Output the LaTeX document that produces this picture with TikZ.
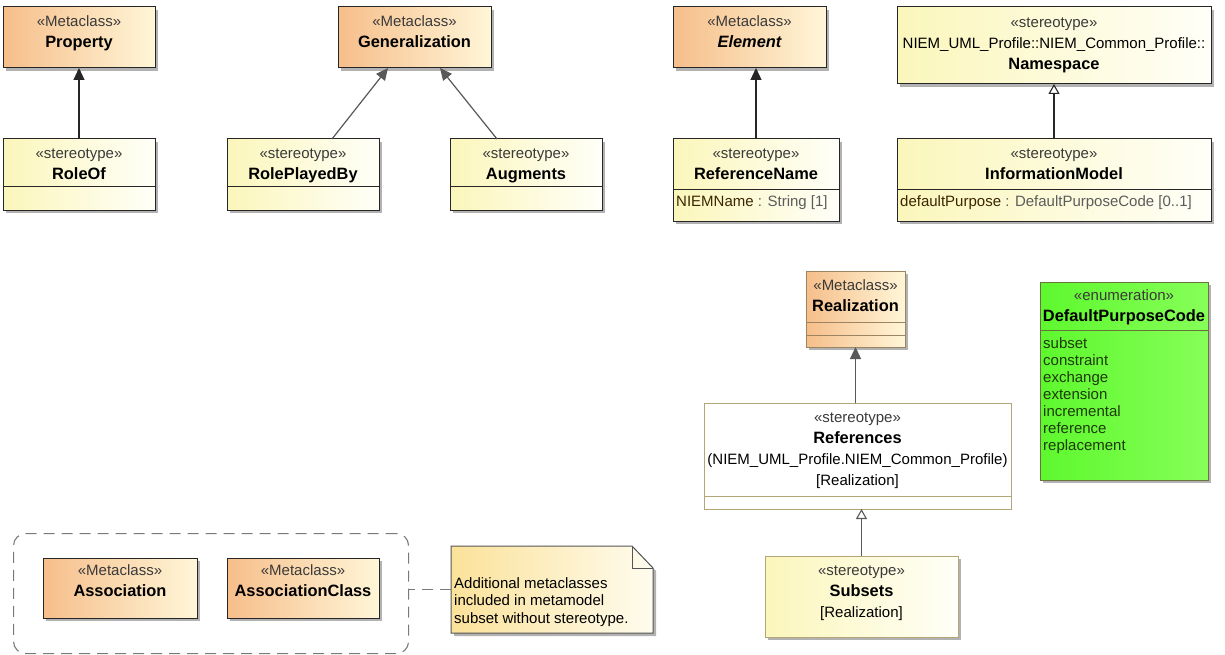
\documentclass[tikz,border=0pt]{standalone}
\usepackage{fontspec}
\setmainfont{Liberation Sans}
\usepackage{xcolor}
\usetikzlibrary{positioning}
\usetikzlibrary{shadows}
\usetikzlibrary{arrows.meta}
\tikzset{>=Latex}
\definecolor{metaorange}{HTML}{F6BE8A}
\definecolor{metalight}{HTML}{FFF6D8}
\definecolor{stereoyellow}{HTML}{FBF6BB}
\definecolor{stereolight}{HTML}{FFFFF8}
\definecolor{enumgreen}{HTML}{5EF82E}
\definecolor{enumgreenlight}{HTML}{86FF58}
\definecolor{noteyellow}{HTML}{FBE29A}
\definecolor{notelight}{HTML}{FFFCEE}
\definecolor{boxdark}{HTML}{262626}
\definecolor{paleborder}{HTML}{B3A679}
\definecolor{metaborder}{HTML}{9C8462}
\definecolor{enumborder}{HTML}{68743E}
\definecolor{stereogray}{HTML}{3A3A3A}
\definecolor{attrname}{HTML}{3A2600}
\definecolor{attrtype}{HTML}{5C5C5C}
\definecolor{literalgreen}{HTML}{1E3A0A}
\definecolor{arrowgray}{HTML}{595959}
\definecolor{dashgray}{HTML}{7A7A7A}
\newcommand\stereo[1]{\textcolor{stereogray}{\vphantom{Xl}«#1»}}
\newcommand\umlname[1]{{\fontsize{16.4}{21}\selectfont\bfseries #1}}
\newcommand\compartment[3]{\draw[divider, draw=#3] ([yshift=-#2]#1.north west) -- ([yshift=-#2]#1.north east);}
\tikzstyle{umlbox} = [anchor=north west, inner sep=0pt, outer sep=0pt, line width=1pt, drop shadow={shadow xshift=3pt, shadow yshift=-3pt, fill=black, opacity=0.3}]
\tikzstyle{metaclass} = [umlbox, draw=boxdark, left color=metaorange, right color=metalight]
\tikzstyle{palemeta} = [metaclass, draw=metaborder]
\tikzstyle{stereotype} = [umlbox, draw=boxdark, left color=stereoyellow, right color=stereolight]
\tikzstyle{palestereo} = [stereotype, draw=paleborder]
\tikzstyle{enumbox} = [umlbox, draw=enumborder, left color=enumgreen, right color=enumgreenlight]
\tikzstyle{plainbox} = [anchor=north west, inner sep=0pt, outer sep=0pt, line width=1pt, draw=paleborder, fill=white]
\tikzstyle{container} = [anchor=north west, draw=dashgray, line width=1.1pt, dash pattern=on 11pt off 7pt, rounded corners=12pt]
\tikzstyle{boxtext} = [font=\fontsize{15}{21}\selectfont, align=center, inner sep=0pt]
\tikzstyle{attrtext} = [font=\fontsize{15}{18}\selectfont, inner sep=0pt, anchor=west]
\tikzstyle{listtext} = [font=\fontsize{15}{17}\selectfont, align=left, inner sep=0pt, anchor=north west, text=literalgreen]
\tikzstyle{divider} = [line width=1pt]
\tikzstyle{extends} = [line width=1.2pt, -{Triangle[length=12pt,width=11pt]}]
\tikzstyle{realizes} = [line width=1.1pt, -{Triangle[open,length=10pt,width=11pt]}]
\tikzstyle{notebox} = [draw=dashgray!70!black, line width=1pt, left color=noteyellow, right color=notelight, drop shadow={shadow xshift=3pt, shadow yshift=-3pt, fill=black, opacity=0.3}]
\tikzstyle{notelink} = [draw=dashgray, line width=1.1pt, dash pattern=on 11pt off 7pt]

\begin{document}
\begin{tikzpicture}[x=1pt, y=-1pt]
    \path[use as bounding box, fill=white] (0,0) rectangle (1225,655);

    % metaclasses, top row
    \node[metaclass, minimum width=152pt, minimum height=61pt] (property) at (3,7) {};
    \node[boxtext, below=8pt of property.north] (property-label) {\stereo{Metaclass}\\\umlname{Property}};
    \node[metaclass, minimum width=153pt, minimum height=61pt] (generalization) at (338,7) {};
    \node[boxtext, below=8pt of generalization.north] (generalization-label) {\stereo{Metaclass}\\\umlname{Generalization}};
    \node[metaclass, minimum width=153pt, minimum height=61pt] (element) at (673,7) {};
    \node[boxtext, below=8pt of element.north] (element-label) {\stereo{Metaclass}\\\umlname{\itshape Element}};
    \node[stereotype, minimum width=314pt, minimum height=77pt] (namespace) at (897,7) {};
    \node[boxtext, below=9pt of namespace.north] (namespace-label) {\stereo{stereotype}\\NIEM\_UML\_Profile::NIEM\_Common\_Profile::\\\umlname{Namespace}};

    % stereotypes, second row
    \node[stereotype, minimum width=152pt, minimum height=71pt] (roleof) at (3,139) {};
    \compartment{roleof}{48pt}{boxdark}
    \node[boxtext, below=8pt of roleof.north] (roleof-label) {\stereo{stereotype}\\\umlname{RoleOf}};
    \node[stereotype, minimum width=152pt, minimum height=71pt] (roleplayedby) at (227,139) {};
    \compartment{roleplayedby}{48pt}{boxdark}
    \node[boxtext, below=8pt of roleplayedby.north] (roleplayedby-label) {\stereo{stereotype}\\\umlname{RolePlayedBy}};
    \node[stereotype, minimum width=152pt, minimum height=71pt] (augments) at (450,139) {};
    \compartment{augments}{48pt}{boxdark}
    \node[boxtext, below=8pt of augments.north] (augments-label) {\stereo{stereotype}\\\umlname{Augments}};
    \node[stereotype, minimum width=166pt, minimum height=82pt] (referencename) at (673,139) {};
    \compartment{referencename}{51pt}{boxdark}
    \node[boxtext, below=8pt of referencename.north] (referencename-label) {\stereo{stereotype}\\\umlname{ReferenceName}};
    \node[attrtext] (referencename-attr) at ([xshift=3pt, yshift=-64pt]referencename.north west) {\textcolor{attrname}{NIEMName} \textcolor{attrtype}{: String [1]}};
    \node[stereotype, minimum width=314pt, minimum height=82pt] (informationmodel) at (897,139) {};
    \compartment{informationmodel}{51pt}{boxdark}
    \node[boxtext, below=8pt of informationmodel.north] (informationmodel-label) {\stereo{stereotype}\\\umlname{InformationModel}};
    \node[attrtext] (informationmodel-attr) at ([xshift=3pt, yshift=-64pt]informationmodel.north west) {\textcolor{attrname}{defaultPurpose} \textcolor{attrtype}{: DefaultPurposeCode [0..1]}};

    \draw[extends, draw=boxdark, fill=boxdark] (roleof.north) -- (property.south);
    \draw[extends, draw=arrowgray, fill=arrowgray] ([xshift=29pt]roleplayedby.north) -- ([xshift=-26.5pt]generalization.south);
    \draw[extends, draw=arrowgray, fill=arrowgray] ([xshift=-29pt]augments.north) -- ([xshift=25.5pt]generalization.south);
    \draw[extends, draw=boxdark, fill=boxdark] (referencename.north) -- (referencename.north |- element.south);
    \draw[realizes, draw=boxdark] (informationmodel.north) -- (namespace.south);

    % realization branch
    \node[palemeta, minimum width=99pt, minimum height=76pt] (realization) at (806,271) {};
    \compartment{realization}{51pt}{metaborder}
    \compartment{realization}{64pt}{metaborder}
    \node[boxtext, below=8pt of realization.north] (realization-label) {\stereo{Metaclass}\\\umlname{Realization}};
    \node[plainbox, minimum width=307pt, minimum height=106pt] (references) at (704,403) {};
    \compartment{references}{93pt}{paleborder}
    \node[boxtext, below=8pt of references.north] (references-label) {\stereo{stereotype}\\\umlname{References}\\(NIEM\_UML\_Profile.NIEM\_Common\_Profile)\\{[Realization]}};
    \node[palestereo, minimum width=193pt, minimum height=81pt] (subsets) at (765,556) {};
    \node[boxtext, below=8pt of subsets.north] (subsets-label) {\stereo{stereotype}\\\umlname{Subsets}\\{[Realization]}};

    \draw[extends, draw=arrowgray, fill=arrowgray] (references.north -| realization.south) -- (realization.south);
    \draw[realizes, draw=arrowgray] (subsets.north) -- (subsets.north |- references.south);

    % enumeration
    \node[enumbox, minimum width=168pt, minimum height=198pt] (dpc) at (1040,282) {};
    \compartment{dpc}{48pt}{enumborder}
    \node[boxtext, below=7pt of dpc.north] (dpc-label) {\stereo{enumeration}\\\umlname{DefaultPurposeCode}};
    \node[listtext] (dpc-literals) at ([xshift=3pt, yshift=-55pt]dpc.north west) {subset\\constraint\\exchange\\extension\\incremental\\reference\\replacement};

    % metaclasses without stereotype
    \node[container, minimum width=395pt, minimum height=120pt] (extras) at (13,533) {};
    \node[metaclass, minimum width=154pt, minimum height=60pt] (association) at (43,558) {};
    \node[boxtext, below=6pt of association.north] (association-label) {\stereo{Metaclass}\\\umlname{Association}};
    \node[metaclass, minimum width=152pt, minimum height=60pt] (associationclass) at (227,558) {};
    \node[boxtext, below=6pt of associationclass.north] (associationclass-label) {\stereo{Metaclass}\\\umlname{AssociationClass}};

    \node[anchor=north west, inner sep=0pt, outer sep=0pt, minimum width=202pt, minimum height=87pt] (note) at (451,546) {};
    \draw[notebox] (note.north west) -- ([xshift=-21pt]note.north east) -- ([yshift=-22pt]note.north east) -- (note.south east) -- (note.south west) -- cycle;
    \draw[draw=dashgray!70!black, line width=1pt] ([xshift=-21pt]note.north east) |- ([yshift=-22pt]note.north east);
    \node[listtext, text=black, font=\fontsize{15}{17.5}\selectfont] (note-text) at ([xshift=3pt, yshift=-31pt]note.north west) {Additional metaclasses\\included in metamodel\\subset without stereotype.};
    \draw[notelink] (note.west) -- (note.west -| extras.east);
\end{tikzpicture}
\end{document}
